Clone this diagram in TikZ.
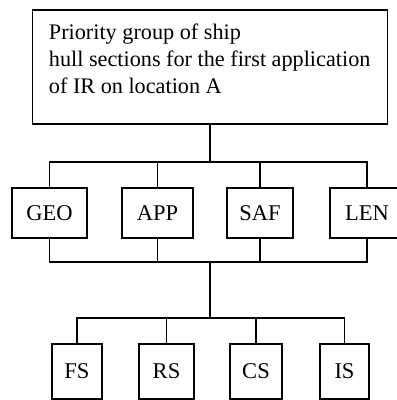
\documentclass[tikz,border=0pt]{standalone}
\usepackage{fontspec}
\setmainfont{Liberation Serif}
\usetikzlibrary{calc}

\begin{document}
\begin{tikzpicture}[x=0.025cm,y=-0.025cm,line width=0.9pt,
    box/.style={draw,inner sep=0pt,font=\fontsize{16}{18}\selectfont}]
  \useasboundingbox (0,0) rectangle (396,400);

  % top box
  \node[draw,minimum width=8.875cm,minimum height=2.85cm] (prio) at (210,67) {};
  \node[anchor=north west,align=left,inner sep=0pt,font=\fontsize{15.8}{19.2}\selectfont]
    (priotext) at ($(prio.north west)+(16.5,14)$)
    {Priority group of ship\\hull sections for the first application\\of IR on location A};

  % middle row
  \node[box,minimum width=1.875cm,minimum height=1.25cm] (geo) at (49.5,213) {GEO};
  \node[box,minimum width=1.775cm,minimum height=1.25cm] (app) at (157.5,213) {APP};
  \node[box,minimum width=1.65cm,minimum height=1.25cm] (saf) at (260,213) {SAF};
  \node[box,minimum width=1.85cm,minimum height=1.25cm] (len) at (367,213) {LEN};

  % bottom row
  \node[box,minimum width=1.25cm,minimum height=1.375cm] (fs) at (77,371.5) {FS};
  \node[box,minimum width=1.375cm,minimum height=1.375cm] (rs) at (166.5,371.5) {RS};
  \node[box,minimum width=1.3cm,minimum height=1.375cm] (cs) at (256,371.5) {CS};
  \node[box,minimum width=1.225cm,minimum height=1.375cm] (is) at (344.5,371.5) {IS};

  \coordinate (topbus) at (210,162);
  \coordinate (midbus) at (210,262);
  \coordinate (lowbus) at (210,318);

  \draw (prio.south) -- (topbus);
  \foreach \b in {geo,app,saf,len} {
    \draw (topbus) -| (\b.north);
    \draw (\b.south) |- (midbus);
  }
  \draw (midbus) -- (lowbus);
  \foreach \b in {fs,rs,cs,is}
    \draw (lowbus) -| (\b.north);
\end{tikzpicture}
\end{document}
